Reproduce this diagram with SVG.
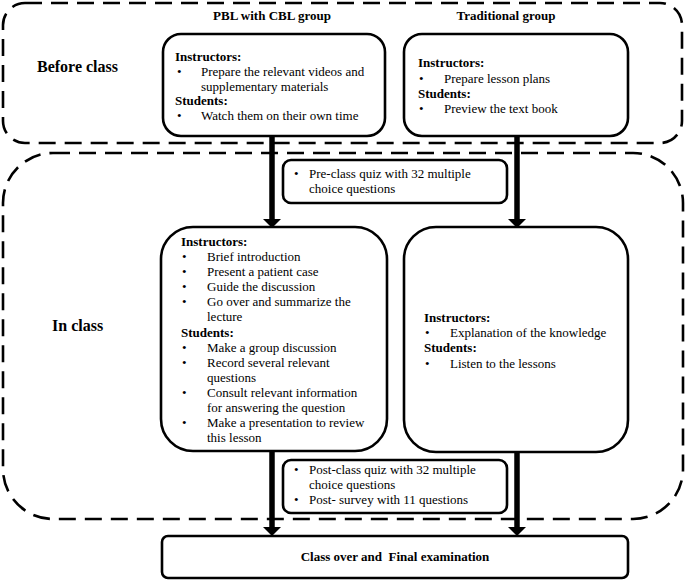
<svg xmlns="http://www.w3.org/2000/svg" width="685" height="581" viewBox="0 0 685 581">
<style>
.dash{fill:none;stroke:#000;stroke-width:2.6;stroke-dasharray:17 9}
.box{fill:#fff;stroke:#000;stroke-width:2.6}
text{font-family:"Liberation Serif","Times New Roman",serif;font-size:13px;fill:#000}
.b{font-weight:bold}
.lbl{font-weight:bold;font-size:16px}
.conn line{stroke:#000;stroke-width:5.5}
.conn polygon{fill:#000}
</style>
<rect width="685" height="581" fill="#fff"/>
<g id="phase-before">
<rect class="dash" x="3" y="3" width="679" height="140" rx="22"/>
<text class="lbl" x="37" y="72">Before class</text>
</g>
<g id="phase-in">
<rect class="dash" x="3" y="153" width="680" height="366" rx="50"/>
<text class="lbl" x="52" y="331">In class</text>
</g>
<g id="headers">
<text class="b" x="272" y="20" text-anchor="middle">PBL with CBL group</text>
<text class="b" x="506" y="20" text-anchor="middle">Traditional group</text>
</g>
<g class="conn" id="connectors">
<line x1="272" y1="136" x2="272" y2="221"/>
<polygon points="263,219 281,219 272,228"/>
<line x1="517" y1="136" x2="517" y2="221"/>
<polygon points="508,219 526,219 517,228"/>
<line x1="272" y1="451" x2="272" y2="529"/>
<polygon points="263,527 281,527 272,536"/>
<line x1="517" y1="452" x2="517" y2="529"/>
<polygon points="508,527 526,527 517,536"/>
</g>
<g id="pbl-before">
<rect class="box" x="163" y="34" width="222" height="102" rx="18"/>
<text class="b" x="175" y="61">Instructors:</text>
<text x="177" y="76">•</text><text x="201" y="76">Prepare the relevant videos and</text>
<text x="201" y="91">supplementary materials</text>
<text class="b" x="175" y="105">Students:</text>
<text x="177" y="120">•</text><text x="201" y="120">Watch them on their own time</text>
</g>
<g id="trad-before">
<rect class="box" x="404" y="34" width="224" height="102" rx="18"/>
<text class="b" x="418" y="67">Instructors:</text>
<text x="419" y="83">•</text><text x="444" y="83">Prepare lesson plans</text>
<text class="b" x="418" y="98">Students:</text>
<text x="419" y="113">•</text><text x="444" y="113">Preview the text book</text>
</g>
<g id="pre-quiz">
<rect class="box" x="283" y="160" width="224" height="43" rx="8"/>
<text x="294" y="178">•</text><text x="309" y="178">Pre-class quiz with 32 multiple</text>
<text x="309" y="193">choice questions</text>
</g>
<g id="pbl-in">
<rect class="box" x="161" y="227" width="226" height="224" rx="32"/>
<text class="b" x="181" y="246">Instructors:</text>
<text x="182" y="261">•</text><text x="207" y="261">Brief introduction</text>
<text x="182" y="276">•</text><text x="207" y="276">Present a patient case</text>
<text x="182" y="291">•</text><text x="207" y="291">Guide the discussion</text>
<text x="182" y="306">•</text><text x="207" y="306">Go over and summarize the</text>
<text x="207" y="321">lecture</text>
<text class="b" x="181" y="337">Students:</text>
<text x="182" y="352">•</text><text x="207" y="352">Make a group discussion</text>
<text x="182" y="367">•</text><text x="207" y="367">Record several relevant</text>
<text x="207" y="382">questions</text>
<text x="182" y="397">•</text><text x="207" y="397">Consult relevant information</text>
<text x="207" y="412">for answering the question</text>
<text x="182" y="427">•</text><text x="207" y="427">Make a presentation to review</text>
<text x="207" y="442">this lesson</text>
</g>
<g id="trad-in">
<rect class="box" x="404" y="227" width="224" height="225" rx="32"/>
<text class="b" x="424" y="322">Instructors:</text>
<text x="425" y="337">•</text><text x="450" y="337">Explanation of the knowledge</text>
<text class="b" x="424" y="352">Students:</text>
<text x="425" y="368">•</text><text x="450" y="368">Listen to the lessons</text>
</g>
<g id="post-quiz">
<rect class="box" x="283" y="460" width="224" height="53" rx="8"/>
<text x="294" y="474">•</text><text x="309" y="474">Post-class quiz with 32 multiple</text>
<text x="309" y="489">choice questions</text>
<text x="294" y="504">•</text><text x="309" y="504">Post- survey with 11 questions</text>
</g>
<g id="final">
<rect class="box" x="162" y="536" width="466" height="42" rx="6"/>
<text class="b" x="395" y="561" text-anchor="middle" style="white-space:pre">Class over and  Final examination</text>
</g>
</svg>
